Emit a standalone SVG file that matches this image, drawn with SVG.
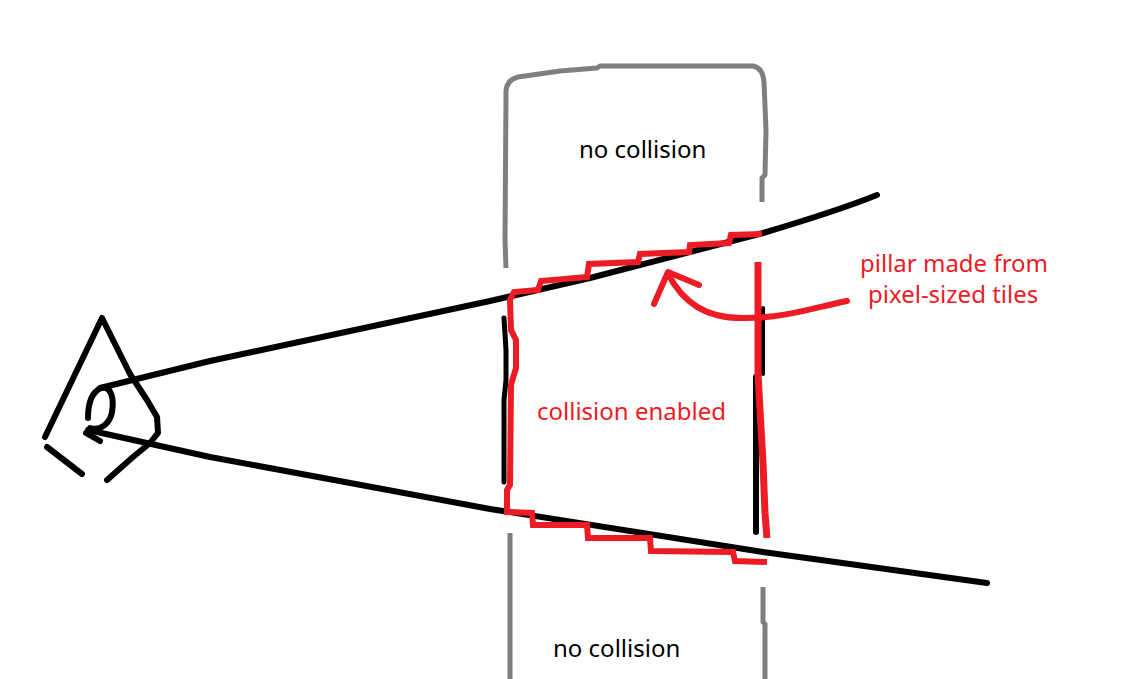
<svg xmlns="http://www.w3.org/2000/svg" width="1132" height="679" viewBox="0 0 1132 679">
<style>
.blk{fill:none;stroke:#000;stroke-width:6;stroke-linecap:round;stroke-linejoin:round}
.gry{fill:none;stroke:#7f7f7f;stroke-width:5;stroke-linecap:butt;stroke-linejoin:round}
.red{fill:none;stroke:#ed1c24;stroke-width:6;stroke-linecap:butt;stroke-linejoin:miter}
.redr{fill:none;stroke:#ed1c24;stroke-width:6;stroke-linecap:round;stroke-linejoin:round}
.lbl{font-family:"Noto Sans","Open Sans",sans-serif;font-size:24px}
</style>
<rect width="1132" height="679" fill="#fff"/>
<g id="pillar-top">
<path class="gry" d="M506,268 L505,240 L506,95 Q505,80 518,77 L560,71 L597,68 L600,66 L753,66 Q763,68 764,82 L766,130 L765,175 L762,178 L762,202"/>
<text class="lbl" x="579" y="158" fill="#000">no collision</text>
</g>
<g id="pillar-bottom">
<path class="gry" d="M510,533 L510,679"/>
<path class="gry" d="M763,587 L763,622 L765,624 L765,679"/>
<text class="lbl" x="553" y="657" fill="#000">no collision</text>
</g>
<g id="connectors">
<path class="blk" d="M100,388 L210,361 L490,301 L590,278 L763,233 C800,222 840,210 877,195"/>
<path class="blk" d="M88,430 L210,457 L490,509 L763,552 L987,583"/>
<path class="blk" d="M504,318 L506,350 L506,380 L504,400 L504,482" style="stroke-width:5"/>
<path class="blk" d="M763,308 L763,374" style="stroke-width:4"/>
<path class="blk" d="M756,377 L756,532" style="stroke-width:6"/>
</g>
<g id="eye">
<path class="blk" d="M45,437 L102,318 L130,374 L147,400 L157,417 L158,433 L150,443 L133,457 L107,480"/>
<path class="blk" d="M47,447 L82,474"/>
<path class="blk" d="M88,418 C88,404 92,392 101,388 C112,385 114,400 112,412 C110,424 100,431 90,428"/>
<path class="blk" d="M86,433 L100,441"/>
</g>
<g id="collision-zone">
<path class="red" d="M762,234 L731,235 L729,243 L690,245 L689,252 L640,254 L638,262 L589,264 L587,277 L541,281 L538,290 L514,292 L510,300 L511,330 L516,340 L516,368 L511,385 L510,485 L507,490 L507,512 L532,513 L533,525 L587,525 L588,538 L650,538 L651,551 L733,552 L735,561 L767,562"/>
<path class="red" d="M758,262 L758,373 L760,410 L763,463 L765,513 L767,538" style="stroke-width:7"/>
<text class="lbl" x="537" y="420" fill="#ed1c24">collision enabled</text>
</g>
<g id="arrow">
<path class="redr" d="M847,301 C812,308 785,318 745,318 C705,319 683,302 668,274"/>
<path class="redr" d="M654,304 L668,272 L699,285"/>
</g>
<g id="label-pillar">
<text class="lbl" x="860" y="272" fill="#ed1c24">pillar made from</text>
<text class="lbl" x="868" y="303" fill="#ed1c24">pixel-sized tiles</text>
</g>
</svg>
